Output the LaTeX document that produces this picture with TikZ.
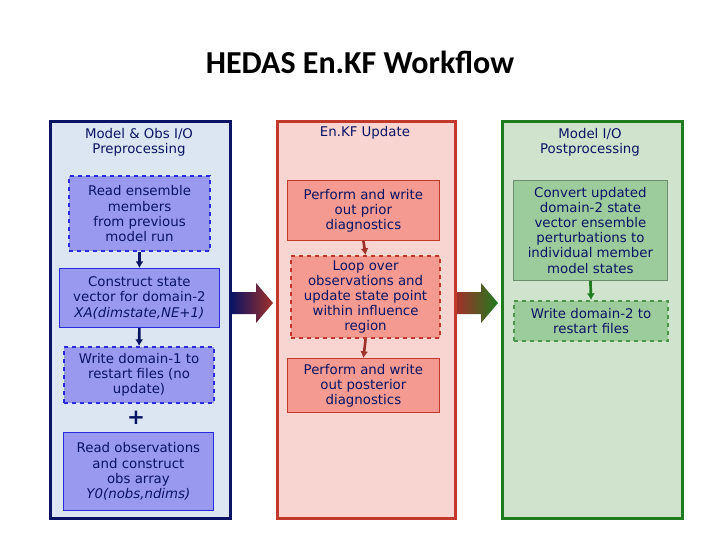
\documentclass[tikz,border=0pt]{standalone}
\usepackage{fontspec}
\setmainfont{DejaVu Sans}
\newfontfamily\titlefont{Carlito}
\begin{document}
\begin{tikzpicture}[x=0.75pt,y=-0.75pt,
  txt/.style={font=\fontsize{10}{11.3}\selectfont, align=center, inner sep=1pt},
  panel/.style={draw, line width=2pt, anchor=north west, inner sep=0pt},
  bbox/.style={draw=#1, anchor=north west, inner sep=0pt, align=center, font=\fontsize{10}{11.3}\selectfont},
  lnk/.style={-{Latex[length=5pt,width=6pt]}, line width=2pt},
]
\usetikzlibrary{arrows.meta}
\definecolor{navy}{HTML}{0A1464}
\definecolor{lblue}{HTML}{DCE6F2}
\definecolor{mblue}{HTML}{9999F0}
\definecolor{dblue}{HTML}{2A2ADC}
\definecolor{dred}{HTML}{C0392B}
\definecolor{lred}{HTML}{F8D5D0}
\definecolor{mred}{HTML}{F59A90}
\definecolor{bred}{HTML}{A0302A}
\definecolor{dgreen}{HTML}{1E7B1E}
\definecolor{lgreen}{HTML}{D0E3CC}
\definecolor{mgreen}{HTML}{9CCB9C}
\useasboundingbox (0,0) rectangle (720,540);
\node[font=\titlefont\bfseries\fontsize{24}{28}\selectfont] (title) at (360,62) {HEDAS En.KF Workflow};
% panels
\node[panel, draw=navy, fill=lblue, minimum width=180*0.75pt, minimum height=397*0.75pt, line width=2.5pt] (p1) at (49,120) {};
\node[panel, draw=dred, fill=lred, minimum width=178*0.75pt, minimum height=397*0.75pt] (p2) at (276,120) {};
\node[panel, draw=dgreen, fill=lgreen, minimum width=180*0.75pt, minimum height=397*0.75pt] (p3) at (501,120) {};
\node[txt, text=navy] (h1) at (139,142) {Model \& Obs I/O\\Preprocessing};
\node[txt, text=navy] (h2) at (365,133) {En.KF Update};
\node[txt, text=navy] (h3) at (590,142) {Model I/O\\Postprocessing};
% left boxes
\node[bbox=dblue, fill=mblue, dashed, line width=1.6pt, minimum width=141*0.75pt, minimum height=75*0.75pt, text=navy] (l1) at (68,175) {Read ensemble\\members\\from previous\\model run};
\node[bbox=dblue, fill=mblue, line width=0.6pt, minimum width=160*0.75pt, minimum height=59*0.75pt, text=navy] (l2) at (59,268) {Construct state\\vector for domain-2\\\textit{XA(dimstate,NE+1)}};
\node[bbox=dblue, fill=mblue, dashed, line width=1.6pt, minimum width=150*0.75pt, minimum height=56*0.75pt, text=navy] (l3) at (63,346) {Write domain-1 to\\restart files (no\\update)};
\node[font=\bfseries\fontsize{16}{16}\selectfont, text=navy] (plus) at (136,418) {+};
\node[bbox=dblue, fill=mblue, line width=0.6pt, minimum width=150*0.75pt, minimum height=78*0.75pt, text=navy] (l4) at (63,432) {Read observations\\and construct\\obs array\\\textit{Y0(nobs,ndims)}};
\draw[lnk, navy] (l1.south) -- (l2.north);
\draw[lnk, navy] (l2.south) -- (l3.north);
% middle boxes
\node[bbox=dred, fill=mred, line width=0.6pt, minimum width=152*0.75pt, minimum height=60*0.75pt, text=navy] (m1) at (287,180) {Perform and write\\out prior\\diagnostics};
\node[bbox=dred, fill=mred, dashed, line width=1.6pt, minimum width=149*0.75pt, minimum height=82*0.75pt, text=navy] (m2) at (290,255) {Loop over\\observations and\\update state point\\within influence\\region};
\node[bbox=dred, fill=mred, line width=0.6pt, minimum width=152*0.75pt, minimum height=54*0.75pt, text=navy] (m3) at (287,358) {Perform and write\\out posterior\\diagnostics};
\draw[lnk, bred] (m1.south) -- (m2.north);
\draw[lnk, bred] (m2.south) -- (m3.north);
% right boxes
\node[bbox=mgreen!70!black, fill=mgreen, line width=0.6pt, minimum width=154*0.75pt, minimum height=100*0.75pt, text=navy] (r1) at (513,180) {Convert updated\\domain-2 state\\vector ensemble\\perturbations to\\individual member\\model states};
\node[bbox=dgreen!80, fill=mgreen, dashed, line width=1.6pt, minimum width=154*0.75pt, minimum height=40*0.75pt, text=navy] (r2) at (513,300) {Write domain-2 to\\restart files};
\draw[lnk, dgreen] (r1.south) -- (r2.north);
% big gradient arrows
\coordinate (a1s) at (231,303);
\coordinate (a2s) at (457,303);
\shade[left color=navy, right color=bred]
  (231,292) -- (256,292) -- (256,283) -- (273,303) -- (256,323) -- (256,314) -- (231,314) -- cycle;
\shade[left color=bred, right color=dgreen]
  (457,292) -- (481,292) -- (481,283) -- (498,303) -- (481,323) -- (481,314) -- (457,314) -- cycle;
\end{tikzpicture}
\end{document}
